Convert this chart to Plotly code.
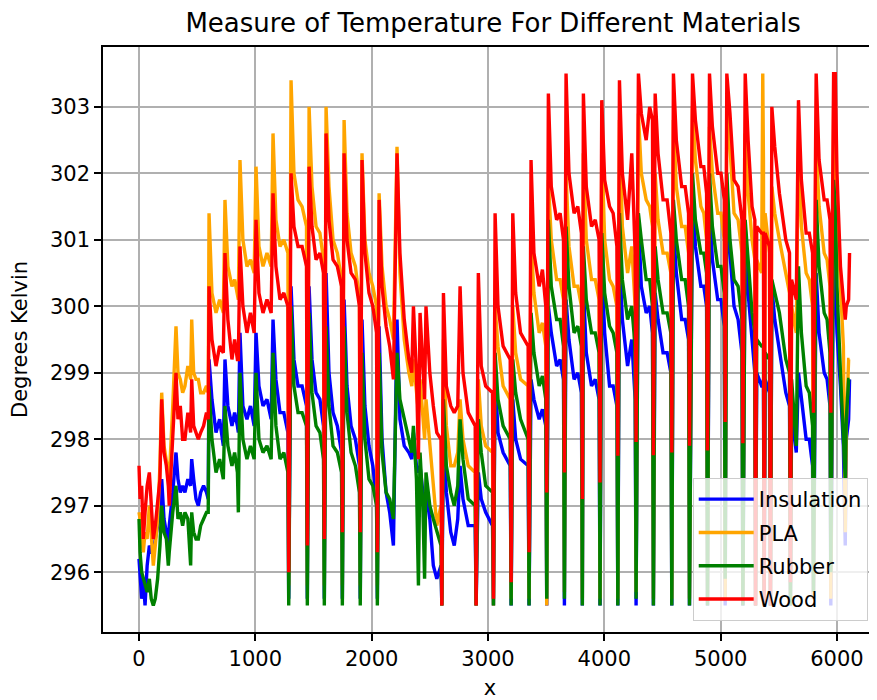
import plotly.graph_objects as go

# ---- data (x position, then one list per material) ----
x_vals = [
    0, 9, 23, 37, 52, 70, 89, 105, 123, 140, 160, 180, 195, 215, 235, 252, 260, 290, 318, 335,
    355, 375, 395, 420, 444, 453, 470, 490, 510, 530, 555, 580,
    595, 602, 627, 662, 693,
    725, 739, 764, 799, 822,
    846, 854, 868, 893, 928, 958,
    990, 1006, 1031, 1066, 1100,
    1136, 1152, 1177, 1212, 1245,
    1280, 1287, 1307, 1332, 1367, 1402,
    1440, 1447, 1462, 1487, 1522, 1555,
    1586, 1593, 1608, 1633, 1668, 1705,
    1741, 1748, 1763, 1788, 1823, 1860,
    1895, 1902, 1917, 1942, 1977, 2010,
    2042, 2049, 2064, 2089, 2124, 2155,
    2187, 2218, 2243, 2280, 2320, 2345, 2359, 2385, 2402, 2416, 2440, 2455, 2467, 2500, 2530, 2560, 2596,
    2603, 2617, 2642, 2680, 2710, 2740, 2760, 2785, 2830, 2890,
    2898, 2917, 2942, 2980, 3039,
    3047, 3061, 3086, 3130, 3191,
    3199, 3213, 3238, 3280, 3345,
    3353, 3370, 3395, 3440, 3468, 3497,
    3505, 3519, 3544, 3590, 3620, 3649,
    3657, 3671, 3696, 3740, 3772, 3803,
    3811, 3820, 3845, 3890, 3922, 3955,
    3963, 3978, 4003, 4045, 4076, 4108,
    4116, 4130, 4155, 4200, 4236, 4255, 4265,
    4273, 4293, 4318, 4360, 4390, 4414,
    4422, 4437, 4462, 4505, 4540, 4572,
    4580, 4594, 4619, 4665, 4695, 4724,
    4732, 4758, 4783, 4830, 4855, 4879,
    4887, 4904, 4929, 4975, 5003, 5031,
    5039, 5053, 5080, 5115, 5150, 5183,
    5191, 5211, 5236, 5270, 5294,
    5300, 5310, 5352, 5362, 5368, 5374, 5382, 5420,
    5428, 5440, 5465, 5505, 5560, 5592,
    5600, 5610, 5650, 5669, 5694, 5735, 5762, 5790,
    5798, 5821, 5846, 5890, 5915, 5940,
    5947, 5971, 5985, 6000, 6030, 6055, 6071, 6080, 6100, 6108,
]

insulation = [
    296.2, 296.0, 295.6, 295.9, 295.5, 296.1, 296.4, 296.3, 296.3, 296.5, 296.7, 296.9, 297.4, 296.8, 296.6, 296.4, 296.7, 297.2, 297.8, 297.4,
    297.2, 297.3, 297.2, 297.4, 297.3, 297.7, 297.4, 297.1, 297.0, 297.2, 297.3, 297.2,
    297.1, 299.2, 298.6, 298.1, 298.3,
    297.9, 299.2, 298.5, 298.2, 298.4,
    298.2, 298.1, 299.6, 298.5, 298.3, 298.5,
    298.2, 299.6, 298.8, 298.5, 298.6,
    298.3, 299.8, 298.9, 298.4, 298.4,
    298.1, 295.6, 300.3, 299.2, 298.8, 298.8,
    298.5, 295.6, 300.3, 299.2, 298.7, 298.6,
    298.2, 295.6, 300.5, 299.0, 298.4, 298.2,
    297.8, 295.6, 300.1, 298.8, 298.2, 298.0,
    297.6, 295.6, 299.8, 298.5, 297.9, 297.6,
    297.1, 295.6, 299.7, 298.0, 297.2, 296.9,
    296.4, 299.8, 298.3, 297.9, 297.8, 297.7, 298.1, 297.6, 297.5, 297.6, 297.2, 297.0, 297.2, 296.8, 296.1, 295.9, 296.1,
    295.5, 298.1, 297.2, 296.6, 296.4, 296.8, 297.6, 297.1, 296.7, 296.7,
    295.5, 297.5, 297.1, 296.9, 296.7,
    295.5, 299.0, 298.1, 297.8, 297.6,
    295.5, 298.6, 298.0, 297.7, 297.6,
    295.5, 298.9, 298.6, 298.3, 298.45, 298.2,
    295.5, 300.0, 299.6, 299.1, 299.2, 298.9,
    295.5, 300.1, 299.5, 298.9, 299.0, 298.7,
    295.5, 300.3, 299.3, 298.8, 298.9, 298.6,
    295.5, 300.6, 299.6, 298.8, 298.8, 298.5,
    295.5, 300.8, 299.8, 299.1, 299.5, 298.8, 298.6,
    295.5, 301.3, 300.3, 299.9, 300.0, 299.6,
    295.5, 300.2, 299.8, 299.3, 299.3, 299.0,
    295.5, 301.2, 300.5, 299.8, 299.8, 299.5,
    295.5, 301.8, 300.9, 300.3, 300.3, 300.0,
    295.5, 301.5, 300.7, 300.1, 300.1, 299.7,
    295.5, 301.8, 300.8, 300.0, 299.8, 299.3,
    295.5, 301.2, 300.2, 299.4, 299.0,
    295.5, 299.0, 298.8, 298.8, 298.9, 295.5, 298.9, 298.7,
    295.5, 300.3, 299.8, 299.3, 298.7, 298.5,
    295.5, 298.4, 297.8, 299.0, 298.6, 298.0, 298.0, 297.6,
    295.6, 300.5, 299.6, 299.0, 298.9, 298.5,
    295.5, 301.0, 300.5, 299.6, 298.8, 297.9, 296.4, 298.0, 298.3, 298.9,
]

pla = [
    296.9, 296.8, 296.5, 296.3, 296.6, 296.5, 297.0, 296.5, 296.1, 296.4, 296.8, 297.6, 298.7, 297.9, 297.7, 297.5, 297.4, 298.5, 299.7, 299.0,
    298.9, 298.7, 298.8, 299.1, 298.9, 299.8, 299.0, 298.9, 298.9, 298.7, 298.7, 298.8,
    298.7, 301.4, 300.2, 299.9, 300.1,
    299.9, 301.6, 300.6, 300.3, 300.4,
    300.2, 300.1, 302.2, 301.0, 300.6, 300.7,
    300.5, 302.1, 300.9, 300.6, 300.8,
    300.6, 302.6, 301.3, 300.9, 301.0,
    300.8, 295.8, 303.4, 302.0, 301.6, 301.5,
    301.2, 295.8, 303.0, 301.8, 301.2, 301.1,
    300.7, 295.8, 303.0, 301.8, 301.0, 300.8,
    300.4, 295.8, 302.8, 301.4, 300.8, 300.6,
    300.1, 295.8, 302.3, 301.0, 300.5, 300.3,
    300.0, 295.8, 301.7, 300.6, 300.0, 299.8,
    299.5, 302.4, 300.5, 299.5, 299.0, 298.8, 299.2, 298.7, 298.4, 298.9, 298.3, 298.0, 298.6, 297.9, 297.4, 296.7, 297.0,
    295.5, 299.5, 298.2, 297.6, 297.6, 297.8, 298.6, 298.0, 297.6, 297.5,
    295.5, 298.9, 298.2, 297.9, 297.8,
    295.5, 300.0, 299.4, 298.8, 298.6,
    295.6, 300.0, 299.3, 298.9, 298.8,
    295.6, 301.0, 300.2, 299.6, 299.75, 299.4,
    295.5, 301.9, 301.0, 300.4, 300.4, 300.1,
    295.7, 302.0, 300.9, 300.3, 300.3, 300.0,
    295.6, 302.3, 301.0, 300.4, 300.4, 300.1,
    295.6, 302.4, 301.0, 300.4, 300.3, 300.0,
    295.6, 302.8, 301.2, 300.5, 300.9, 300.3, 300.0,
    295.7, 302.9, 302.0, 301.6, 301.5, 301.2,
    295.6, 302.0, 301.3, 300.8, 300.8, 300.5,
    295.6, 302.8, 301.8, 301.2, 301.2, 300.8,
    295.6, 303.0, 302.2, 301.5, 301.4, 301.0,
    295.6, 302.7, 302.0, 301.4, 301.4, 301.0,
    295.6, 303.0, 302.4, 301.4, 301.3, 300.8,
    295.6, 302.6, 301.7, 301.0, 300.7,
    295.5, 300.7, 300.5, 303.5, 302.2, 295.5, 301.4, 300.8,
    295.5, 301.8, 301.4, 301.0, 300.5, 300.2,
    295.6, 300.0, 299.6, 302.5, 301.2, 300.5, 300.4, 300.0,
    295.6, 302.4, 301.5, 300.8, 300.7, 300.3,
    295.6, 303.0, 302.5, 301.5, 300.3, 299.4, 296.6, 298.2, 299.2, 299.2,
]

rubber = [
    296.8, 296.3, 296.0, 295.9, 295.8, 295.7, 295.9, 295.6, 295.5, 295.6, 295.9, 296.4, 297.0, 296.6, 296.5, 296.1, 296.3, 296.9, 297.3, 296.8,
    296.9, 296.7, 296.9, 296.8, 296.1, 296.9, 296.6, 296.5, 296.5, 296.7, 296.8, 296.9,
    296.9, 298.8, 298.0, 297.5, 297.7,
    297.4, 298.5, 297.9, 297.6, 297.8,
    297.5, 296.9, 299.0, 298.0, 297.7, 297.9,
    297.7, 299.0, 298.0, 297.8, 297.9,
    297.7, 299.3, 298.2, 297.7, 297.8,
    297.5, 295.5, 300.0, 298.8, 298.4, 298.4,
    298.2, 295.5, 299.9, 298.7, 298.2, 298.1,
    297.7, 295.5, 299.7, 298.5, 297.9, 297.8,
    297.5, 295.5, 299.7, 298.4, 297.8, 297.6,
    297.2, 295.5, 299.3, 298.0, 297.4, 297.3,
    297.0, 295.5, 299.3, 297.8, 297.2, 297.1,
    296.8, 299.3, 298.6, 298.3, 298.0, 297.8, 298.2, 297.4, 295.8, 297.8, 297.0, 295.9, 297.5, 297.0, 296.8, 296.6, 296.4,
    295.5, 298.6, 297.6, 297.2, 297.0, 297.3, 298.3, 297.7, 297.1, 297.0,
    295.5, 298.3, 297.8, 297.3, 297.2,
    295.5, 299.3, 298.6, 298.2, 298.0,
    295.5, 299.2, 298.7, 298.3, 298.0,
    295.5, 299.9, 299.3, 298.8, 298.95, 298.6,
    295.6, 301.3, 300.3, 299.8, 299.8, 299.4,
    295.6, 301.2, 300.3, 299.6, 299.7, 299.4,
    295.5, 300.9, 300.1, 299.6, 299.6, 299.3,
    295.5, 301.1, 300.2, 299.7, 299.6, 299.3,
    295.5, 301.4, 300.4, 299.8, 300.0, 299.6, 299.3,
    295.6, 301.4, 301.0, 300.4, 300.4, 300.0,
    295.5, 300.9, 300.4, 299.9, 299.9, 299.6,
    295.5, 301.6, 301.0, 300.4, 300.4, 300.0,
    295.5, 302.0, 301.3, 300.8, 300.8, 300.5,
    295.5, 302.0, 301.2, 300.6, 300.6, 300.2,
    295.9, 302.0, 301.0, 300.4, 300.3, 299.8,
    295.5, 301.3, 300.7, 299.9, 299.6,
    295.5, 299.5, 299.4, 299.4, 299.4, 295.5, 299.3, 299.2,
    295.5, 300.4, 300.2, 299.9, 299.2, 299.0,
    295.5, 298.9, 297.9, 300.6, 299.6, 298.8, 298.7, 298.2,
    295.7, 301.6, 300.6, 299.9, 299.8, 299.3,
    296.0, 301.9, 301.5, 300.3, 299.0, 298.0, 297.4, 298.3, 298.9, 298.9,
]

wood = [
    297.6, 297.1, 297.3, 296.5, 296.9, 297.3, 297.5, 297.0, 296.5, 296.7, 297.0, 297.4, 298.6, 297.8, 297.6, 297.3, 297.0, 298.1, 299.0, 298.3,
    298.5, 298.0, 298.0, 298.4, 298.1, 298.9, 298.2, 298.1, 298.0, 298.1, 298.2, 298.4,
    298.3, 300.3, 299.5, 299.1, 299.4,
    299.3, 300.8, 299.8, 299.2, 299.5,
    299.2, 299.2, 300.9, 300.0, 299.6, 299.9,
    299.6, 301.3, 300.2, 299.9, 300.1,
    299.9, 301.7, 300.6, 300.1, 300.2,
    300.0, 296.0, 302.0, 301.2, 300.9, 300.9,
    300.6, 296.4, 302.1, 301.2, 300.7, 300.8,
    300.5, 296.5, 302.6, 301.3, 300.7, 300.6,
    300.3, 296.6, 302.3, 301.0, 300.5, 300.4,
    300.0, 296.6, 302.2, 300.8, 300.2, 300.0,
    299.6, 296.3, 301.6, 300.3, 299.7, 299.4,
    298.9, 302.3, 300.8, 299.8, 299.2, 299.0, 300.0, 299.0, 297.7, 299.9, 299.0, 298.6, 300.0, 299.0, 298.5, 298.1, 298.0,
    295.5, 300.2, 298.8, 298.5, 298.4, 298.5, 300.3, 299.0, 298.4, 298.2,
    295.5, 300.5, 299.1, 298.8, 298.7,
    295.6, 301.4, 300.0, 299.4, 299.2,
    295.85, 301.4, 300.2, 299.6, 299.4,
    296.3, 302.2, 300.8, 300.3, 300.55, 300.0,
    297.2, 303.2, 301.8, 301.3, 301.4, 301.0,
    297.5, 303.5, 302.0, 301.4, 301.5, 301.1,
    297.1, 303.2, 301.8, 301.2, 301.3, 301.0,
    297.35, 303.1, 301.9, 301.5, 301.4, 300.9,
    297.75, 303.4, 302.0, 301.3, 302.3, 301.0, 300.8,
    297.96, 303.5, 302.9, 302.5, 303.0, 302.8,
    297.76, 303.2, 302.3, 301.6, 301.6, 301.1,
    297.8, 303.5, 302.5, 301.8, 301.8, 301.4,
    297.9, 303.5, 302.8, 302.1, 302.1, 301.7,
    297.83, 303.5, 302.7, 302.0, 302.0, 301.6,
    298.26, 303.5, 302.9, 301.9, 301.8, 301.3,
    297.94, 303.5, 302.5, 301.5, 301.3,
    295.5, 301.2, 301.1, 301.1, 301.1, 295.5, 301.1, 300.9,
    295.5, 303.0, 302.4, 301.7, 301.0, 300.8,
    295.85, 300.4, 300.1, 303.1, 301.9, 301.1, 301.1, 300.8,
    298.4, 303.5, 302.2, 301.6, 301.6, 301.3,
    298.4, 303.5, 303.5, 302.0, 300.6, 300.1, 299.8, 300.0, 300.1, 300.8,
]

x_ticks = [0, 1000, 2000, 3000, 4000, 5000, 6000]
y_ticks = [296, 297, 298, 299, 300, 301, 302, 303]

series = [
    ("Insulation", insulation, "#0000ff"),
    ("PLA", pla, "#ffa500"),
    ("Rubber", rubber, "#008000"),
    ("Wood", wood, "#ff0000"),
]
for _name, _vals, _c in series:
    if len(_vals) != len(x_vals):
        raise ValueError(f"{_name}: {len(_vals)} values vs {len(x_vals)} x positions")

fig = go.Figure()
for name, vals, color in series:
    fig.add_trace(go.Scatter(
        x=x_vals, y=vals, mode="lines", name=name, legendgroup=name,
        line=dict(color=color, width=3.4),
    ))

axis_common = dict(
    showgrid=True, gridcolor="#b0b0b0", gridwidth=1.5,
    showline=True, linecolor="black", linewidth=1.5,
    ticks="outside", ticklen=7, tickwidth=1.5, tickcolor="black",
    zeroline=False, tickfont=dict(size=21, color="black"), automargin=False,
)

# page body has an 8px default margin, so the figure is 8px smaller than the window
W, H = 869, 692
fig.update_layout(
    width=W, height=H,
    margin=dict(l=95, r=0, t=39, b=68),
    plot_bgcolor="white", paper_bgcolor="white",
    font=dict(family="DejaVu Sans", size=21, color="black"),
    title=dict(
        text="Measure of Temperature For Different Materials",
        x=0.504, xref="paper", xanchor="center",
        y=1 - 15 / H, yref="container", yanchor="middle",
        font=dict(size=26, color="black"),
    ),
    xaxis=dict(
        range=[-309.5, 6344], tickvals=x_ticks, mirror=True,
        title=dict(text="x", standoff=13, font=dict(size=21)),
        **axis_common,
    ),
    yaxis=dict(
        range=[295.1, 303.9], tickvals=y_ticks,
        title=dict(text="Degrees Kelvin", standoff=18, font=dict(size=21)),
        **axis_common,
    ),
    legend=dict(
        x=0.988, xanchor="right", y=0.0188, yanchor="bottom",
        bgcolor="rgba(255,255,255,0.8)", bordercolor="#cccccc", borderwidth=1,
        font=dict(size=21, color="black"), tracegroupgap=3, itemwidth=55,
    ),
    showlegend=True,
)

fig.write_html("out.html")
